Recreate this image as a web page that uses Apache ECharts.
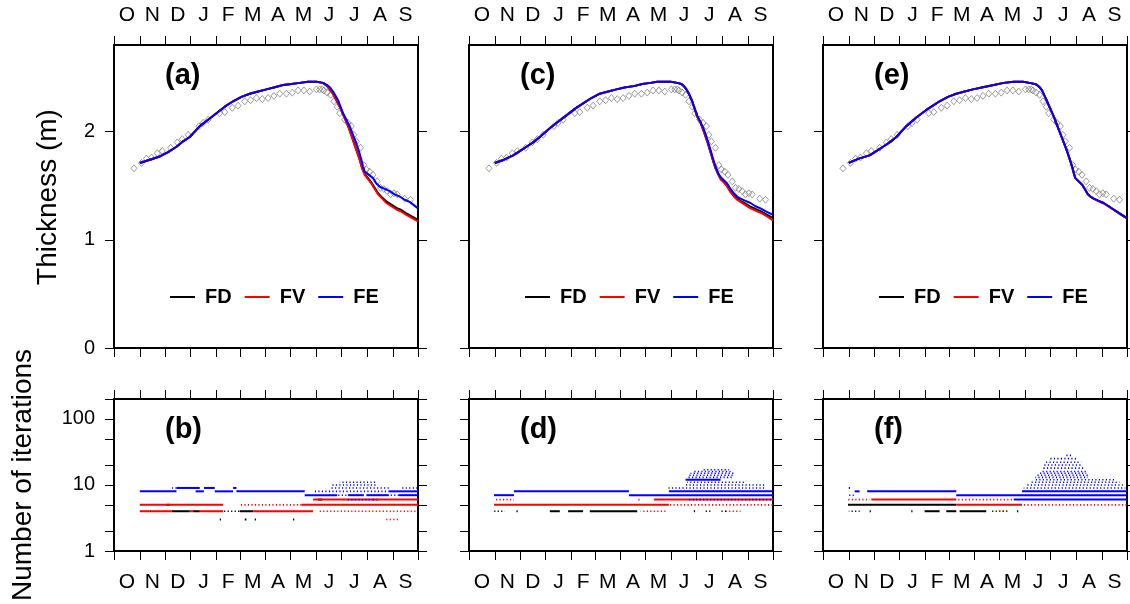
<!DOCTYPE html>
<html><head><meta charset="utf-8">
<script src="https://cdn.jsdelivr.net/npm/echarts@6/dist/echarts.min.js"></script>
<style>html,body{margin:0;padding:0;background:#fff}#c{width:1130px;height:604px}</style>
</head><body><div id="c"></div>
<script>
// ---------- axes data ----------
const monthStarts = [0,31,61,92,123,151,182,212,243,273,304,335,365];
const monthLetters = ['O','N','D','J','F','M','A','M','J','J','A','S'];
const thickTicks = [0,1,2];
const iterTicks = [1,2,5,10,20,50,100,200];
const iterLabels = [1,10,100];
const panelLabels = ['(a)','(c)','(e)','(b)','(d)','(f)'];
const seriesNames = ['FD','FV','FE'];

// ---------- observations (day of water year, thickness m) ----------
const obs = [[24,1.66],[33,1.71],[39,1.75],[45,1.76],[52,1.80],[58,1.82],[68,1.85],[76,1.90],[82,1.93],[89,1.97],
 [102,2.05],[107,2.08],[113,2.11],[127,2.17],[133,2.18],[142,2.22],[149,2.24],[157,2.28],[164,2.29],[171,2.31],
 [178,2.30],[185,2.31],[192,2.33],[199,2.35],[207,2.35],[214,2.36],[221,2.38],[228,2.38],[235,2.37],[243,2.39],
 [247,2.39],[250,2.39],[252,2.38],[256,2.36],[260,2.34],[264,2.28],[268,2.23],[271,2.17],[277,2.11],[281,2.08],
 [285,2.05],[288,1.97],[291,1.91],[296,1.85],[300,1.69],[303,1.65],[307,1.63],[311,1.60],[316,1.54],[320,1.48],
 [324,1.47],[328,1.45],[332,1.42],[336,1.43],[340,1.42],[349,1.38],[356,1.37]];

// ---------- thickness, panel (a) ----------
const FE_a = [[31,1.71],[43,1.74],[55,1.77],[65,1.81],[75,1.86],[83,1.91],[91,1.95],[103,2.05],[113,2.11],[123,2.17],
 [133,2.23],[143,2.28],[153,2.32],[163,2.35],[173,2.37],[183,2.39],[193,2.41],[203,2.43],[213,2.44],[223,2.45],
 [233,2.46],[243,2.46],[251,2.45],[256,2.43],[259,2.41],[263,2.37],[266,2.33],[269,2.29],[272,2.23],[275,2.17],
 [279,2.11],[283,2.05],[287,1.97],[291,1.89],[294,1.82],[297,1.74],[299,1.68],[301,1.63],[306,1.60],[311,1.57],
 [315,1.52],[319,1.49],[325,1.47],[331,1.45],[337,1.42],[343,1.40],[349,1.37],[355,1.35],[360,1.32],[365,1.29]];
const FV_a = [[31,1.71],[43,1.74],[55,1.77],[65,1.81],[75,1.86],[83,1.91],[91,1.95],[103,2.05],[113,2.11],[123,2.17],
 [133,2.23],[143,2.28],[153,2.32],[163,2.35],[173,2.37],[183,2.39],[193,2.41],[203,2.43],[213,2.44],[223,2.45],
 [233,2.46],[243,2.46],[251,2.45],[256,2.42],[259,2.39],[263,2.35],[267,2.29],[271,2.23],[275,2.16],[279,2.09],
 [283,2.01],[287,1.92],[291,1.83],[295,1.74],[298,1.66],[301,1.60],[305,1.56],[309,1.52],[313,1.47],[317,1.42],
 [322,1.38],[327,1.34],[333,1.31],[339,1.28],[345,1.26],[351,1.23],[358,1.20],[365,1.17]];
const FD_a = [[31,1.71],[43,1.74],[55,1.77],[65,1.81],[75,1.86],[83,1.91],[91,1.95],[103,2.05],[113,2.11],[123,2.17],
 [133,2.23],[143,2.28],[153,2.32],[163,2.35],[173,2.37],[183,2.39],[193,2.41],[203,2.43],[213,2.44],[223,2.45],
 [233,2.46],[243,2.46],[251,2.45],[256,2.42],[259,2.39],[263,2.35],[267,2.29],[271,2.23],[275,2.16],[279,2.09],
 [283,2.01],[287,1.92],[291,1.83],[295,1.74],[298,1.66],[301,1.61],[305,1.57],[309,1.53],[313,1.48],[317,1.43],
 [322,1.39],[327,1.355],[333,1.325],[339,1.295],[345,1.275],[351,1.245],[358,1.215],[365,1.185]];

// ---------- thickness, panel (c) ----------
const FE_c = [[31,1.71],[42,1.74],[53,1.78],[61,1.82],[69,1.86],[77,1.90],[85,1.95],[97,2.03],[107,2.09],[117,2.15],
 [127,2.21],[137,2.26],[147,2.31],[157,2.35],[167,2.37],[177,2.39],[188,2.41],[198,2.42],[208,2.44],[218,2.45],
 [226,2.46],[234,2.46],[242,2.46],[250,2.45],[255,2.44],[258,2.42],[261,2.39],[264,2.35],[268,2.28],[271,2.21],
 [274,2.15],[278,2.09],[282,2.02],[286,1.93],[290,1.83],[293,1.75],[296,1.68],[299,1.62],[302,1.58],[306,1.55],
 [310,1.52],[314,1.47],[318,1.43],[322,1.40],[326,1.38],[332,1.36],[338,1.34],[344,1.31],[350,1.29],[357,1.26],[365,1.23]];
const FV_c = [[31,1.71],[42,1.74],[53,1.78],[61,1.82],[69,1.86],[77,1.90],[85,1.95],[97,2.03],[107,2.09],[117,2.15],
 [127,2.21],[137,2.26],[147,2.31],[157,2.35],[167,2.37],[177,2.39],[188,2.41],[198,2.42],[208,2.44],[218,2.45],
 [226,2.46],[234,2.46],[242,2.46],[250,2.45],[255,2.44],[258,2.42],[261,2.39],[264,2.35],[268,2.28],[271,2.21],
 [274,2.14],[278,2.08],[282,2.00],[286,1.91],[290,1.81],[293,1.73],[296,1.66],[299,1.61],[302,1.56],[306,1.53],
 [310,1.49],[314,1.44],[318,1.40],[322,1.37],[326,1.35],[332,1.32],[338,1.29],[344,1.27],[350,1.25],[357,1.22],[365,1.18]];
const FD_c = [[31,1.71],[42,1.74],[53,1.78],[61,1.82],[69,1.86],[77,1.90],[85,1.95],[97,2.03],[107,2.09],[117,2.15],
 [127,2.21],[137,2.26],[147,2.31],[157,2.35],[167,2.37],[177,2.39],[188,2.41],[198,2.42],[208,2.44],[218,2.45],
 [226,2.46],[234,2.46],[242,2.46],[250,2.45],[255,2.44],[258,2.42],[261,2.39],[264,2.35],[268,2.28],[271,2.21],
 [274,2.14],[278,2.08],[282,2.00],[286,1.91],[290,1.81],[293,1.73],[296,1.66],[299,1.61],[302,1.565],[306,1.535],
 [310,1.50],[314,1.45],[318,1.41],[322,1.38],[326,1.36],[332,1.335],[338,1.305],[344,1.285],[350,1.265],[357,1.235],[365,1.20]];

// ---------- thickness, panel (e) ----------
const FE_e = [[31,1.71],[43,1.75],[56,1.78],[64,1.82],[72,1.86],[80,1.90],[88,1.95],[100,2.05],[112,2.13],[124,2.20],
 [132,2.24],[140,2.28],[150,2.32],[160,2.35],[170,2.37],[180,2.39],[192,2.41],[205,2.43],[217,2.45],[229,2.46],
 [240,2.46],[248,2.45],[254,2.44],[257,2.43],[260,2.41],[263,2.38],[266,2.33],[269,2.28],[273,2.21],[277,2.14],
 [281,2.06],[285,1.98],[289,1.90],[293,1.82],[296,1.75],[299,1.68],[301,1.62],[303,1.57],[307,1.54],[311,1.51],
 [315,1.46],[318,1.42],[321,1.40],[325,1.38],[331,1.36],[337,1.34],[343,1.31],[349,1.28],[357,1.24],[365,1.20]];
const FV_e = [[31,1.71],[43,1.75],[56,1.78],[64,1.82],[72,1.86],[80,1.90],[88,1.95],[100,2.05],[112,2.13],[124,2.20],
 [132,2.24],[140,2.28],[150,2.32],[160,2.35],[170,2.37],[180,2.39],[192,2.41],[205,2.43],[217,2.45],[229,2.46],
 [240,2.46],[248,2.45],[254,2.44],[257,2.43],[260,2.41],[263,2.38],[266,2.33],[269,2.28],[273,2.21],[277,2.14],
 [281,2.06],[285,1.98],[289,1.90],[293,1.82],[296,1.75],[299,1.68],[301,1.62],[303,1.57],[307,1.54],[311,1.51],
 [315,1.46],[318,1.42],[321,1.40],[325,1.38],[331,1.355],[337,1.335],[343,1.305],[349,1.275],[357,1.235],[365,1.195]];
const FD_e = [[31,1.71],[43,1.75],[56,1.78],[64,1.82],[72,1.86],[80,1.90],[88,1.95],[100,2.05],[112,2.13],[124,2.20],
 [132,2.24],[140,2.28],[150,2.32],[160,2.35],[170,2.37],[180,2.39],[192,2.41],[205,2.43],[217,2.45],[229,2.46],
 [240,2.46],[248,2.45],[254,2.44],[257,2.43],[260,2.41],[263,2.38],[266,2.33],[269,2.28],[273,2.21],[277,2.14],
 [281,2.06],[285,1.98],[289,1.90],[293,1.82],[296,1.75],[299,1.68],[301,1.62],[303,1.57],[307,1.54],[311,1.51],
 [315,1.46],[318,1.42],[321,1.40],[325,1.38],[331,1.36],[337,1.34],[343,1.31],[349,1.28],[357,1.24],[365,1.20]];

// ---------- iterations: runs [startDay, endDay, iterations, dotted?] ----------
const iterFD_b = [[43,45,4,0],[69,91,4,0],[95,103,4,0],[131,151,4,1],[151,167,4,0],[63,67,5,0],
 [127,128,3,0],[157,159,3,0],[169,170,3,0],[215,216,3,0],[245,250,6,0],[310,317,6,1]];
const iterFV_b = [[31,131,5,0],[151,225,5,1],[225,365,5,0],
 [31,43,4,0],[45,69,4,0],[91,95,4,0],[103,131,4,0],[167,239,4,0],[247,365,4,1],
 [239,365,6,0],[327,343,3,1]];
const iterFE_b = [[31,75,8,0],[98,108,8,0],[121,143,8,0],[147,229,8,0],
 [67,75,9,1],[75,103,9,0],[108,121,9,0],[143,147,9,0],
 [229,268,7,0],[268,281,7,1],[281,300,7,0],[303,330,7,0],[330,342,7,1],[342,365,7,0],
 [239,330,8,1],[330,365,8,0],[259,330,9,1],[345,365,9,1],[260,315,10,1],[271,315,11,1],[281,315,6,1]];

const iterFD_d = [[30,43,4,1],[57,58,4,0],[97,109,4,0],[119,137,4,0],[145,202,4,0],[270,271,4,0],[282,290,4,1],[302,310,4,1]];
const iterFV_d = [[30,240,5,0],[240,365,5,1],[30,54,6,1],[202,206,6,1],[222,365,6,0],[206,238,4,1],[306,326,4,1]];
const iterFE_d = [[30,54,7,0],[54,192,8,0],[192,365,7,0],[240,365,8,0],[264,365,6,1],
 [238,357,9,1],[258,357,10,1],[262,330,11,1],[260,302,12,0],[262,318,13,1],[262,318,14,1],
 [266,318,15,1],[270,316,16,1],[280,312,17,1]];

const iterFD_f = [[30,160,5,0],[31,44,4,1],[56,57,4,0],[106,107,4,0],[122,140,4,0],[148,160,4,0],[164,196,4,0],[202,223,4,1],[233,234,4,0]];
const iterFV_f = [[30,56,6,1],[58,160,6,0],[160,229,6,1],[160,239,5,0],[239,365,5,1],[208,223,4,1]];
const iterFE_f = [[31,32,9,0],[30,37,7,1],[38,44,8,0],[53,160,8,0],[160,365,7,0],
 [229,365,6,0],[239,365,8,0],[241,363,9,1],[245,360,10,1],[249,356,11,1],[253,350,12,1],
 [255,318,13,1],[257,318,14,1],[259,316,15,1],[261,316,16,1],[263,314,18,1],[265,312,20,1],
 [268,310,22,1],[272,306,25,1],[290,300,28,1]];

// ---------- build ----------
const thick = [[FD_a,FV_a,FE_a],[FD_c,FV_c,FE_c],[FD_e,FV_e,FE_e]];
const iters = [[iterFD_b,iterFV_b,iterFE_b],[iterFD_d,iterFV_d,iterFE_d],[iterFD_f,iterFV_f,iterFE_f]];

const FONT = '"Liberation Sans", Arial, Helvetica, sans-serif';
const colors = {FD:'#000000', FV:'#ff0000', FE:'#0000ff'};
const monthMid = monthStarts.slice(0,12).map((s,i)=>(s+monthStarts[i+1])/2);
function monthFmt(v){ let b=0; monthMid.forEach((m,i)=>{ if(Math.abs(m-v)<Math.abs(monthMid[b]-v)) b=i; }); return monthLetters[b]; }

const cols = [114, 469, 823];
const grids=[], xAxes=[], yAxes=[];
for (let r=0;r<2;r++) for (let c=0;c<3;c++){
  const gi = grids.length;
  grids.push({left:cols[c], top: r===0?45:399, width:304, height: r===0?303:152, containLabel:false});
  for (const pos of ['top','bottom']) {
    const showLab = (r===0 && pos==='top') || (r===1 && pos==='bottom');
    xAxes.push({type:'value', gridIndex:gi, position:pos, min:0, max:365,
      axisLine:{show:true, onZero:false, lineStyle:{color:'#000', width:2}},
      axisTick:{show:true, inside:false, length:9, customValues:monthStarts, lineStyle:{color:'#000', width:1}},
      axisLabel:{show:showLab, customValues:monthMid, formatter:monthFmt, margin: r===0?19:21, fontSize:21, color:'#000', fontFamily:FONT},
      splitLine:{show:false}});
  }
  for (const pos of ['left','right']) {
    const showLab = c===0 && pos==='left';
    const base = r===0 ? {type:'value', min:0, max:2.8} : {type:'log', logBase:10, min:1, max:200};
    yAxes.push(Object.assign(base, {gridIndex:gi, position:pos,
      axisLine:{show:true, onZero:false, lineStyle:{color:'#000', width:2}},
      axisTick:{show:true, inside:false, length:9, customValues: r===0?thickTicks:iterTicks, lineStyle:{color:'#000', width:1}},
      axisLabel:{show:showLab, customValues: r===0?thickTicks:iterLabels, margin:19, fontSize:20, color:'#000', fontFamily:FONT},
      splitLine:{show:false}, minorTick:{show:false}}));
  }
}

const series = [];
for (let c=0;c<3;c++){
  const gi = c;
  seriesNames.forEach((nm,k)=>{
    series.push({type:'line', name:nm, xAxisIndex:2*gi+1, yAxisIndex:2*gi, data:thick[c][k],
      showSymbol:false, symbol:'none', color:colors[nm], lineStyle:{width:2, color:colors[nm]}, z:3+k});
  });
  series.push({type:'scatter', name:'obs', xAxisIndex:2*gi+1, yAxisIndex:2*gi, data:obs,
    symbol:'diamond', symbolSize:[6,7], itemStyle:{color:'rgba(0,0,0,0)', borderColor:'#777', borderWidth:0.9}, z:2});
}
function renderRun(params, api){
  const x0=api.value(0), x1=api.value(1), lv=api.value(2), st=api.value(3);
  const p0=api.coord([x0,lv]), p1=api.coord([x1,lv]);
  return {type:'line', shape:{x1:p0[0], y1:p0[1], x2:Math.max(p1[0], p0[0]+1.2), y2:p1[1]},
    style:{stroke:api.visual('color'), lineWidth: st ? 1.6 : 2, lineDash: st ? [1.2,2.3] : null,
      lineDashOffset: st ? (lv*1.7 + params.dataIndex*0.9) % 3.5 : 0}};
}
for (let c=0;c<3;c++){
  const gi = 3+c;
  [1,0,2].forEach(k=>{
    const nm = seriesNames[k];
    series.push({type:'custom', name:nm, xAxisIndex:2*gi+1, yAxisIndex:2*gi, data:iters[c][k],
      dimensions:['x0','x1','lv','st'], encode:{x:[0,1], y:2}, renderItem:renderRun,
      itemStyle:{color:colors[nm]}, clip:true, z:3+k});
  });
}

const legends = cols.map(x=>({left:x+51, top:282, data:seriesNames, icon:'rect', itemWidth:25, itemHeight:2, itemGap:13,
  selectedMode:false, textStyle:{fontSize:20, fontWeight:'bold', color:'#000', fontFamily:FONT, padding:[0,0,0,5]}}));

const graphics = [];
panelLabels.forEach((t,i)=>{
  const c=i%3, r=Math.floor(i/3);
  graphics.push({type:'text', x:cols[c]+51, y: r===0?76:430, style:{text:t, font:'bold 29px '+FONT, fill:'#000', align:'left', verticalAlign:'middle'}});
});
graphics.push({type:'text', x:48, y:197, rotation:Math.PI/2, style:{text:'Thickness (m)', font:'28px '+FONT, fill:'#000', align:'center', verticalAlign:'middle'}});
graphics.push({type:'text', x:23, y:475, rotation:Math.PI/2, style:{text:'Number of iterations', font:'28px '+FONT, fill:'#000', align:'center', verticalAlign:'middle'}});

const chart = echarts.init(document.getElementById('c'));
chart.setOption({animation:false, backgroundColor:'#fff', grid:grids, xAxis:xAxes, yAxis:yAxes, series, legend:legends, graphic:graphics});
</script></body></html>
